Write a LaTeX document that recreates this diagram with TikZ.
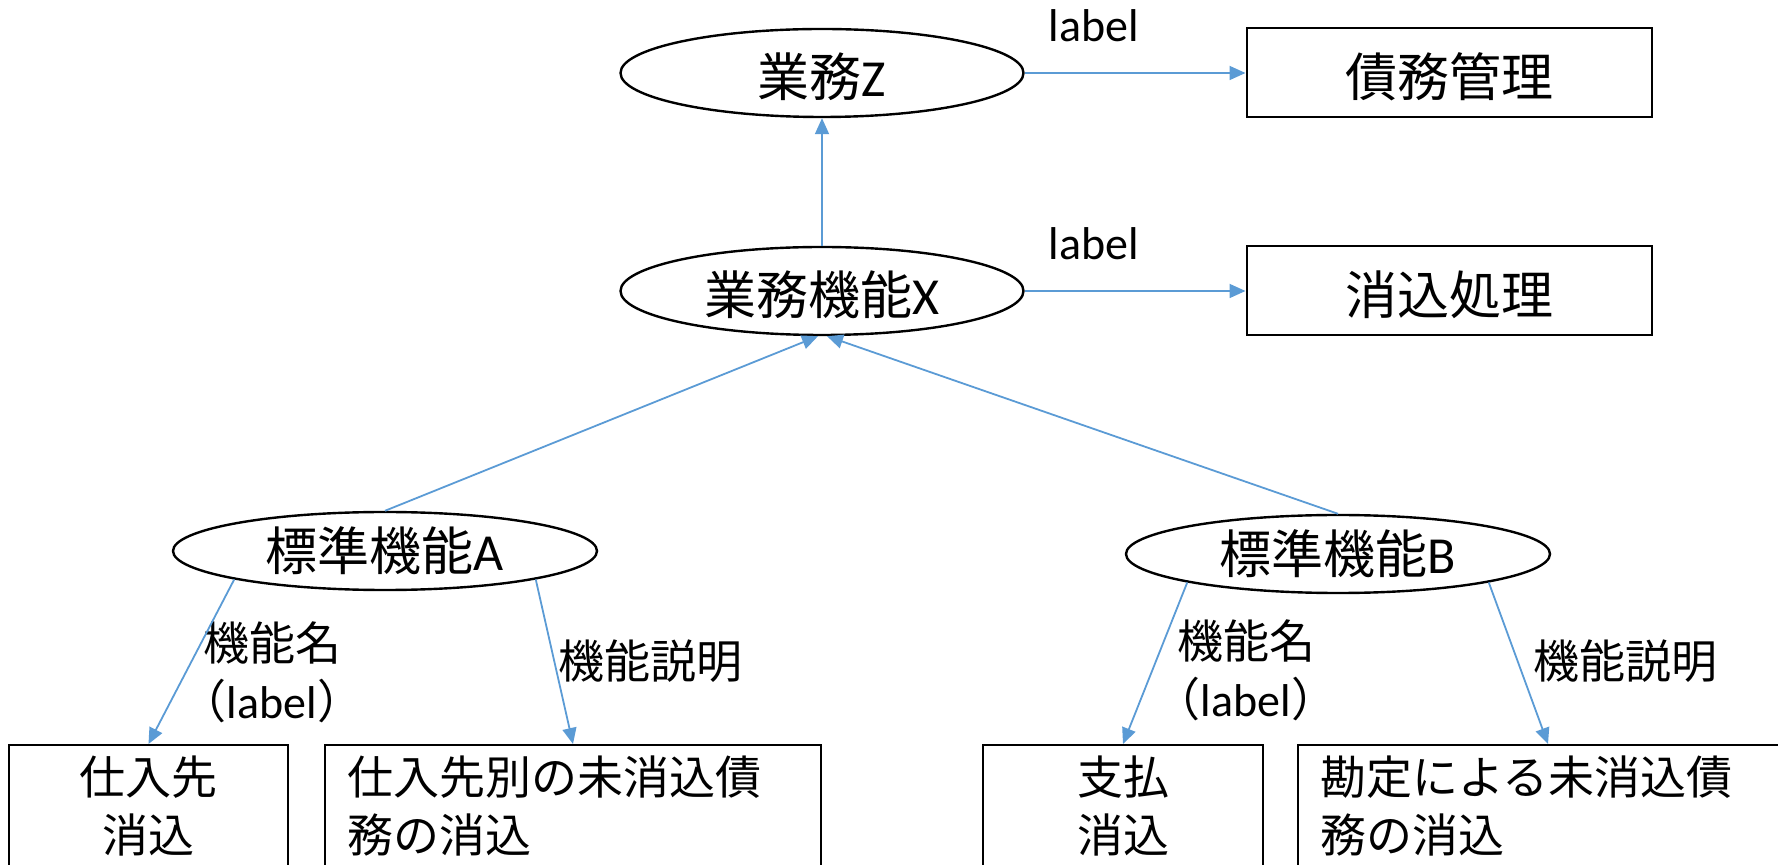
\documentclass[tikz,border=0pt]{standalone}
\usepackage{fontspec}
\setmainfont{Carlito}
\newfontfamily\jafont{Noto Sans CJK JP}
\usepackage{xcolor}
\usetikzlibrary{shapes,arrows.meta}
\definecolor{linkblue}{HTML}{5B9BD5}
\tikzset{
upper/.style={
  draw, ellipse, line width=1.2pt,
  minimum width=201.5pt, minimum height=44pt, inner sep=0pt,
  font=\fontsize{26pt}{31pt}\selectfont,
  text height=25pt, text depth=1pt
},
lower/.style={
  draw, ellipse, line width=1.2pt,
  minimum width=212pt, minimum height=39pt, inner sep=0pt,
  font=\fontsize{26pt}{31pt}\selectfont
},
target/.style={
  draw, rectangle, line width=1pt,
  minimum width=202.5pt, minimum height=44.5pt, inner sep=0pt,
  font=\jafont\fontsize{26pt}{31pt}\selectfont,
  text height=25pt, text depth=1pt
},
leaf/.style={
  draw, rectangle, line width=1pt, anchor=north,
  inner xsep=11pt, inner ysep=5.5pt,
  font=\jafont\fontsize{23pt}{29pt}\selectfont,
  text depth=40pt
},
note/.style={
  inner sep=0pt, align=center,
  font=\fontsize{23pt}{29pt}\selectfont
},
link/.style={
  draw=linkblue, line width=0.9pt,
  -{Triangle[length=8pt,width=7pt]}
}
}

\begin{document}
\begin{tikzpicture}[x=0.5pt,y=-0.5pt]
\useasboundingbox (0,0) rectangle (1778,865);
\clip (0,0) rectangle (1778,865);

\node[upper] (z) at (822,73) {{\jafont 業務}Z};
\node[upper] (x) at (822,291) {{\jafont 業務機能}X};
\node[target] (debt) at (1449,73) {債務管理};
\node[target] (clear) at (1449,291) {消込処理};

\node[lower] (fa) at (385,551) {{\jafont 標準機能}A};
\node[lower] (fb) at (1338,554) {{\jafont 標準機能}B};

\node[leaf, text width=117.5pt, align=center] (fa1) at (148.5,744) {仕入先\\消込};
\node[leaf, text width=226pt, align=left] (fa2) at (573,744) {仕入先別の未消込債\\務の消込};
\node[leaf, text width=118pt, align=center] (fb1) at (1123,744) {支払\\消込};
\node[leaf, text width=228pt, align=left] (fb2) at (1548,744) {勘定による未消込債\\務の消込};

% labels
\node[note] (lz) at (1094,26) {label};
\node[note] (lx) at (1094,244) {label};
\node[note] (na1) at (272,672) {{\jafont 機能名}\\{\jafont （}label{\jafont ）}};
\node[note] (na2) at (650,661) {\jafont 機能説明};
\node[note] (nb1) at (1246,670) {{\jafont 機能名}\\{\jafont （}label{\jafont ）}};
\node[note] (nb2) at (1625,661) {\jafont 機能説明};

\draw[link] (x.north) -- (z.south);
\draw[link] (z.east) -- (debt.west);
\draw[link] (x.east) -- (clear.west);
\draw[link] (fa.north) -- ([xshift=-2pt]x.south);
\draw[link] (fb.north) -- ([xshift=2.5pt]x.south);
\draw[link] (fa.south west) -- (fa1.north);
\draw[link] (fa.south east) -- (fa2.north);
\draw[link] (fb.south west) -- (fb1.north);
\draw[link] (fb.south east) -- (fb2.north);
\end{tikzpicture}
\end{document}
